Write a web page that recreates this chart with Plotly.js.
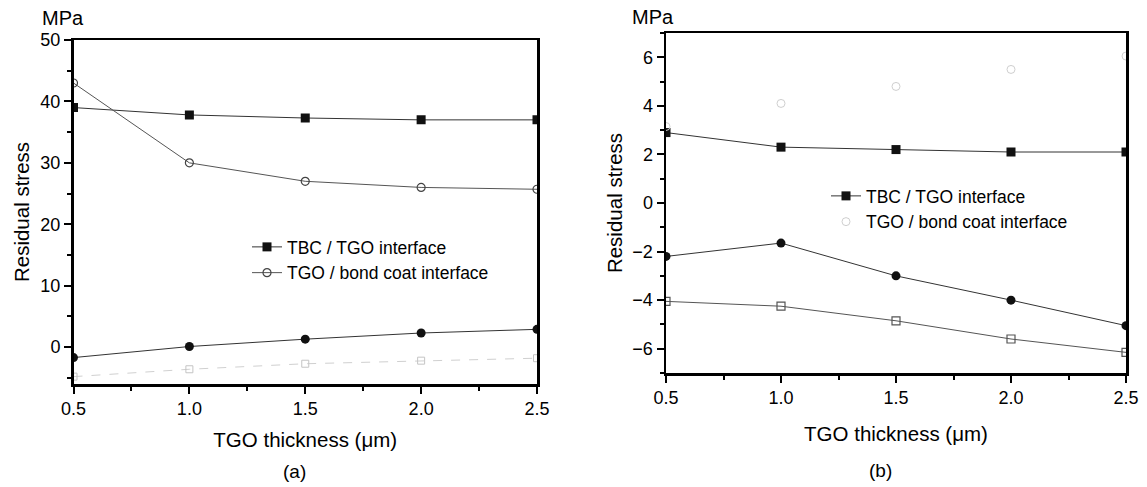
<!DOCTYPE html>
<html>
<head>
<meta charset="utf-8">
<script src="https://cdn.plot.ly/plotly-3.0.1.min.js"></script>
<style>html,body{margin:0;padding:0;background:#fff;}#chart{width:1147px;height:487px;}</style>
</head>
<body>
<div id="chart"></div>
<script>
// TGO thickness (µm)
const thickness = [0.5, 1.0, 1.5, 2.0, 2.5];

// Panel (a) residual stress (MPa)
const a_tbcTgo = [39.0, 37.8, 37.3, 37.0, 37.0];
const a_tgoBond = [43.0, 30.0, 27.0, 26.0, 25.7];
const a_filledCircles = [-1.7, 0.1, 1.3, 2.3, 2.9];
const a_faintSquares = [-4.8, -3.6, -2.7, -2.2, -1.8];

// Panel (b) residual stress (MPa)
const b_tbcTgo = [2.9, 2.3, 2.2, 2.1, 2.1];
const b_tgoBond = [3.15, 4.1, 4.8, 5.5, 6.05];
const b_filledCircles = [-2.2, -1.65, -3.0, -4.0, -5.05];
const b_openSquares = [-4.05, -4.25, -4.85, -5.6, -6.15];

const legendNames = ["TBC / TGO interface", "TGO / bond coat interface"];
const xTitle = "TGO thickness (μm)";
const yTitle = "Residual stress";

const FONT = "Liberation Sans, Arial, sans-serif";
const lineDark = {color: "#333", width: 1};
const W = 1147, H = 487;

const traces = [
  // panel a
  {x: thickness, y: a_tbcTgo, name: legendNames[0], mode: "lines+markers", xaxis: "x", yaxis: "y", legend: "legend",
   line: lineDark, marker: {symbol: "square", size: 9, color: "#111"}},
  {x: thickness, y: a_tgoBond, name: legendNames[1], mode: "lines+markers", xaxis: "x", yaxis: "y", legend: "legend",
   line: {color: "#555", width: 1}, marker: {symbol: "circle-open", size: 8, color: "#444", line: {width: 1.2}}},
  {x: thickness, y: a_filledCircles, name: "a3", showlegend: false, mode: "lines+markers", xaxis: "x", yaxis: "y",
   line: lineDark, marker: {symbol: "circle", size: 9, color: "#111"}},
  {x: thickness, y: a_faintSquares, name: "a4", showlegend: false, mode: "lines+markers", xaxis: "x", yaxis: "y",
   line: {color: "#d0d0d0", width: 1, dash: "dash"}, marker: {symbol: "square-open", size: 7, color: "#c4c4c4", line: {width: 1}}},
  // panel b
  {x: thickness, y: b_tbcTgo, name: legendNames[0], mode: "lines+markers", xaxis: "x2", yaxis: "y2", legend: "legend2",
   line: lineDark, marker: {symbol: "square", size: 9, color: "#111"}},
  {x: thickness, y: b_tgoBond, name: legendNames[1], mode: "markers", xaxis: "x2", yaxis: "y2", legend: "legend2",
   marker: {symbol: "circle-open", size: 8, color: "#cfcfcf", line: {width: 1}}},
  {x: thickness, y: b_filledCircles, name: "b3", showlegend: false, mode: "lines+markers", xaxis: "x2", yaxis: "y2",
   line: lineDark, marker: {symbol: "circle", size: 9, color: "#111"}},
  {x: thickness, y: b_openSquares, name: "b4", showlegend: false, mode: "lines+markers", xaxis: "x2", yaxis: "y2",
   line: {color: "#555", width: 1}, marker: {symbol: "square-open", size: 8, color: "#555", line: {width: 1.2}}}
];

function xax(domain, anchor, standoff) {
  return {
    domain: domain, anchor: anchor, range: [0.5, 2.5], dtick: 0.5, tick0: 0.5, tickformat: ".1f",
    ticks: "outside", ticklen: 7, tickwidth: 2, tickcolor: "#000",
    minor: {dtick: 0.25, ticks: "outside", ticklen: 4, tickwidth: 2, tickcolor: "#000"},
    showline: true, linewidth: 2.5, linecolor: "#000", mirror: true, showgrid: false, zeroline: false,
    tickfont: {family: FONT, size: 18, color: "#000"},
    title: {text: xTitle, font: {family: FONT, size: 20.5, color: "#000"}, standoff: standoff},
    automargin: false
  };
}
function yax(domain, range, dtick, minorDtick, anchor, standoff) {
  return {
    domain: domain, range: range, dtick: dtick, anchor: anchor,
    ticks: "outside", ticklen: 7, tickwidth: 2, tickcolor: "#000",
    minor: {dtick: minorDtick, ticks: "outside", ticklen: 4, tickwidth: 2, tickcolor: "#000"},
    showline: true, linewidth: 2.5, linecolor: "#000", mirror: true, showgrid: false, zeroline: false,
    tickfont: {family: FONT, size: 18, color: "#000"},
    title: {text: yTitle, font: {family: FONT, size: 20.5, color: "#000"}, standoff: standoff},
    automargin: false
  };
}

const layout = {
  width: W, height: H,
  margin: {l: 0, r: 0, t: 0, b: 0},
  paper_bgcolor: "#fff", plot_bgcolor: "#fff",
  font: {family: FONT, color: "#000"},
  xaxis: xax([73.5/W, 537/W], "y", 15),
  yaxis: yax([(H-384)/H, (H-40)/H], [-6, 50], 10, 5, "x", 5),
  xaxis2: xax([666/W, 1126/W], "y2", 20),
  yaxis2: yax([(H-373)/H, (H-33)/H], [-7, 7], 2, 1, "x2", 4),
  legend: {x: 247/W, y: 1 - 229/H, xanchor: "left", yanchor: "top", bgcolor: "rgba(0,0,0,0)",
           font: {family: FONT, size: 17.5, color: "#000"}, tracegroupgap: 0, itemwidth: 30},
  legend2: {x: 826/W, y: 1 - 178/H, xanchor: "left", yanchor: "top", bgcolor: "rgba(0,0,0,0)",
           font: {family: FONT, size: 17.5, color: "#000"}, tracegroupgap: 0, itemwidth: 30},
  annotations: [
    {text: "MPa", xref: "paper", yref: "paper", x: 40/W, y: 1 - 18/H, xanchor: "left", yanchor: "middle", showarrow: false,
     font: {family: FONT, size: 20, color: "#000"}},
    {text: "MPa", xref: "paper", yref: "paper", x: 630/W, y: 1 - 17/H, xanchor: "left", yanchor: "middle", showarrow: false,
     font: {family: FONT, size: 20, color: "#000"}},
    {text: "(a)", xref: "paper", yref: "paper", x: 294/W, y: 1 - 471/H, xanchor: "center", yanchor: "middle", showarrow: false,
     font: {family: FONT, size: 19, color: "#000"}},
    {text: "(b)", xref: "paper", yref: "paper", x: 880/W, y: 1 - 470/H, xanchor: "center", yanchor: "middle", showarrow: false,
     font: {family: FONT, size: 19, color: "#000"}}
  ]
};

Plotly.newPlot("chart", traces, layout, {displayModeBar: false, staticPlot: true});
</script>
</body>
</html>
